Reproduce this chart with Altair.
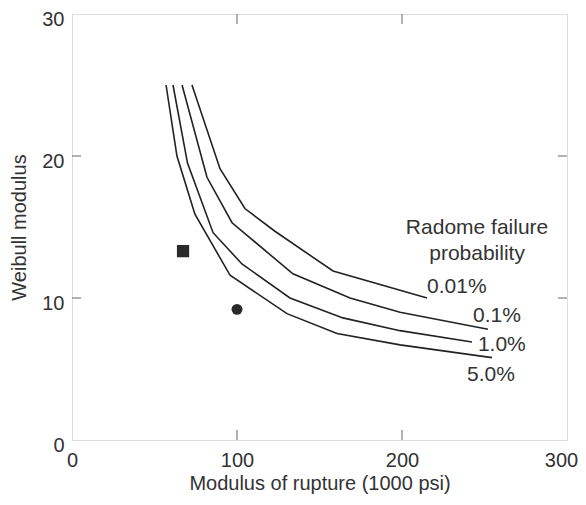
import altair as alt
import pandas as pd

# Curves (Modulus of rupture, Weibull modulus)
c001_x = [72.7, 89.7, 104.8, 123.0, 158.2, 215.2]
c001_y = [25.0, 19.1, 16.3, 14.7, 11.9, 10.0]
c01_x = [66.7, 81.8, 97.0, 133.9, 168.5, 198.8, 252.1]
c01_y = [25.0, 18.5, 15.3, 11.7, 10.0, 9.0, 7.8]
c1_x = [61.2, 70.0, 85.5, 103.0, 132.1, 164.2, 198.8, 242.4]
c1_y = [25.0, 19.5, 14.6, 12.4, 10.0, 8.6, 7.7, 6.9]
c5_x = [57.0, 63.6, 74.5, 95.8, 130.3, 160.6, 198.8, 254.5]
c5_y = [25.0, 20.0, 15.9, 11.6, 8.9, 7.5, 6.7, 5.8]
series = ["0.01%", "0.1%", "1.0%", "5.0%"]

square_pt = (67.3, 13.3)
circle_pt = (100.0, 9.2)

x_ticks = [0, 100, 200, 300]
y_ticks = [0, 10, 20, 30]
inner_x_ticks = [100, 200]
inner_y_ticks = [10, 20]

label_x = [215.2, 243.0, 246.0, 239.4]
label_y = [10.75, 8.7, 6.7, 4.57]
title_lines = ["Radome failure", "probability"]
title_x = [245.5, 245.5]
title_y = [14.9, 13.1]

rows = []
for name, xs, ys in zip(series, [c001_x, c01_x, c1_x, c5_x], [c001_y, c01_y, c1_y, c5_y]):
    for i, (a, b) in enumerate(zip(xs, ys)):
        rows.append({"series": name, "x": a, "y": b, "o": i})
curves = pd.DataFrame(rows)

FONT = "Liberation Sans"
TXT = "#333333"

xs = alt.Scale(domain=[0, 300], nice=False)
ys = alt.Scale(domain=[0, 30], nice=False)

xaxis = alt.Axis(values=x_ticks, title="Modulus of rupture (1000 psi)", domain=False, ticks=False,
                 grid=False, labelFlush=False, labelPadding=10, titlePadding=3, labelFontSize=20,
                 labelOffset=alt.ExprRef("datum.value == 300 ? -6 : 0"),
                 titleFontSize=20, labelFont=FONT, titleFont=FONT, labelColor=TXT, titleColor=TXT,
                 titleFontWeight="normal")
yaxis = alt.Axis(values=y_ticks, title="Weibull modulus", domain=False, ticks=False,
                 grid=False, labelFlush=False, labelOffset=5, labelPadding=8, titlePadding=12,
                 labelFontSize=20, titleFontSize=20, labelFont=FONT, titleFont=FONT,
                 labelColor=TXT, titleColor=TXT, titleFontWeight="normal")

lines = alt.Chart(curves).mark_line(color="#222222", strokeWidth=1.6).encode(
    x=alt.X("x:Q", scale=xs, axis=xaxis),
    y=alt.Y("y:Q", scale=ys, axis=yaxis),
    detail="series:N",
    order="o:Q",
)

sq = alt.Chart(pd.DataFrame({"x": [square_pt[0]], "y": [square_pt[1]]})).mark_point(
    shape="square", filled=True, size=150, color="#2a2a2a", opacity=1).encode(x="x:Q", y="y:Q")
ci = alt.Chart(pd.DataFrame({"x": [circle_pt[0]], "y": [circle_pt[1]]})).mark_point(
    shape="circle", filled=True, size=120, color="#2a2a2a", opacity=1).encode(x="x:Q", y="y:Q")

tx = pd.DataFrame({"t": inner_x_ticks})
ty = pd.DataFrame({"t": inner_y_ticks})
tick_style = dict(color="#666666", strokeWidth=1)
tb = alt.Chart(tx).mark_rule(**tick_style).encode(x="t:Q", y=alt.value(426), y2=alt.value(416))
tt = alt.Chart(tx).mark_rule(**tick_style).encode(x="t:Q", y=alt.value(0), y2=alt.value(10))
tl = alt.Chart(ty).mark_rule(**tick_style).encode(y="t:Q", x=alt.value(0), x2=alt.value(9))
tr = alt.Chart(ty).mark_rule(**tick_style).encode(y="t:Q", x=alt.value(495), x2=alt.value(486))

labs = alt.Chart(pd.DataFrame({"x": label_x, "y": label_y, "t": series})).mark_text(
    align="left", baseline="middle", fontSize=21, font=FONT, color=TXT).encode(
    x="x:Q", y="y:Q", text="t:N")
ttl = alt.Chart(pd.DataFrame({"x": title_x, "y": title_y, "t": title_lines})).mark_text(
    align="center", baseline="middle", fontSize=21, font=FONT, color=TXT).encode(
    x="x:Q", y="y:Q", text="t:N")

chart = alt.layer(lines, sq, ci, tb, tt, tl, tr, labs, ttl).properties(
    width=495, height=426,
    autosize=alt.AutoSizeParams(type="none"),
    padding={"left": 64, "top": 6, "right": 11, "bottom": 57},
).configure_view(stroke="#666666", strokeWidth=1.2).configure(background="white")

chart.save("out.html", embed_options={"renderer": "svg", "actions": False})
